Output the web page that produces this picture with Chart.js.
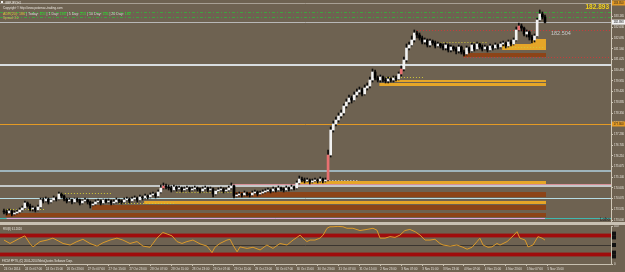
<!DOCTYPE html>
<html><head><meta charset="utf-8">
<script src="https://cdn.jsdelivr.net/npm/chart.js@4"></script>
<style>
html,body{margin:0;padding:0;background:#6e6251;overflow:hidden}
#wrap{position:relative;width:625px;height:272px;background:#6e6251}
canvas{position:absolute;left:0}
#c1{top:0}
#sep{position:absolute;left:0;top:222px;width:625px;height:3px;background:#c9c1b3}
#c2{top:225px}
</style></head><body>
<div id="wrap"><canvas id="c1" width="625" height="222"></canvas><div id="sep"></div><canvas id="c2" width="625" height="47"></canvas></div>
<script>
// ---------- DATA ----------
const opens=[173.45,173.40,173.35,173.45,173.30,173.35,173.40,173.50,173.60,173.85,173.70,173.55,173.60,173.50,173.65,174.00,173.95,174.05,173.90,174.00,174.10,174.05,174.30,174.20,174.05,173.95,174.00,173.90,174.05,174.00,173.85,173.95,174.00,173.90,173.75,173.80,173.90,173.95,173.85,174.00,173.90,173.95,173.85,173.90,174.00,173.95,173.90,174.00,174.05,173.95,174.05,174.10,174.00,174.15,174.10,174.20,174.15,174.25,174.30,174.20,174.40,174.60,174.70,174.65,174.60,174.50,174.65,174.55,174.60,174.50,174.55,174.60,174.50,174.55,174.60,174.55,174.45,174.55,174.60,174.50,174.55,174.30,174.45,174.50,174.55,174.45,174.50,174.60,174.70,174.20,174.25,174.30,174.25,174.35,174.30,174.25,174.35,174.40,174.30,174.35,174.40,174.45,174.50,174.45,174.55,174.50,174.60,174.55,174.50,174.60,174.55,174.65,174.60,174.85,175.05,175.00,174.95,175.00,174.90,174.95,175.00,174.95,175.05,174.95,175.00,176.25,177.50,177.80,178.00,178.20,178.35,178.70,178.90,179.10,179.00,179.25,179.40,179.50,179.30,179.60,179.70,180.00,180.40,180.10,180.00,180.15,180.00,179.95,180.05,180.00,180.10,180.05,180.30,180.55,181.00,181.60,181.75,182.00,182.35,182.25,182.10,181.90,182.00,181.75,181.95,181.85,181.70,181.80,181.70,181.60,181.75,181.50,181.65,181.55,181.45,181.65,181.40,181.30,181.60,181.45,181.75,181.55,181.80,181.65,181.55,181.65,181.50,181.70,181.60,181.75,181.65,181.80,181.85,181.70,181.90,181.80,182.00,182.50,182.70,182.60,182.30,182.40,182.15,182.00,182.20,183.00,183.30,183.15];
const closes=[173.40,173.35,173.45,173.30,173.35,173.40,173.50,173.60,173.85,173.70,173.55,173.60,173.50,173.65,174.00,173.95,174.05,173.90,174.00,174.10,174.05,174.30,174.20,174.05,173.95,174.00,173.90,174.05,174.00,173.85,173.95,174.00,173.90,173.75,173.80,173.90,173.95,173.85,174.00,173.90,173.95,173.85,173.90,174.00,173.95,173.90,174.00,174.05,173.95,174.05,174.10,174.00,174.15,174.10,174.20,174.15,174.25,174.30,174.20,174.40,174.60,174.70,174.65,174.60,174.50,174.65,174.55,174.60,174.50,174.55,174.60,174.50,174.55,174.60,174.55,174.45,174.55,174.60,174.50,174.55,174.30,174.45,174.50,174.55,174.45,174.50,174.60,174.70,174.20,174.25,174.30,174.25,174.35,174.30,174.25,174.35,174.40,174.30,174.35,174.40,174.45,174.50,174.45,174.55,174.50,174.60,174.55,174.50,174.60,174.55,174.65,174.60,174.85,175.05,175.00,174.95,175.00,174.90,174.95,175.00,174.95,175.05,174.95,175.00,176.25,177.50,177.80,178.00,178.20,178.35,178.70,178.90,179.10,179.00,179.25,179.40,179.50,179.30,179.60,179.70,180.00,180.40,180.10,180.00,180.15,180.00,179.95,180.05,180.00,180.10,180.05,180.30,180.55,181.00,181.60,181.75,182.00,182.35,182.25,182.10,181.90,182.00,181.75,181.95,181.85,181.70,181.80,181.70,181.60,181.75,181.50,181.65,181.55,181.45,181.65,181.40,181.30,181.60,181.45,181.75,181.55,181.80,181.65,181.55,181.65,181.50,181.70,181.60,181.75,181.65,181.80,181.85,181.70,181.90,181.80,182.00,182.50,182.70,182.60,182.30,182.40,182.15,182.00,182.20,183.00,183.30,183.15,182.893];
const highs=[173.55,173.50,173.55,173.50,173.45,173.50,173.60,173.70,173.95,173.90,173.80,173.70,173.65,173.75,174.10,174.10,174.15,174.10,174.05,174.20,174.15,174.40,174.35,174.25,174.10,174.10,174.05,174.10,174.10,174.05,174.00,174.10,174.05,173.95,173.90,174.00,174.05,174.00,174.05,174.05,174.05,174.00,174.00,174.10,174.05,174.00,174.10,174.15,174.10,174.15,174.20,174.15,174.25,174.20,174.30,174.25,174.35,174.40,174.35,174.50,174.75,174.85,174.80,174.75,174.70,174.75,174.70,174.70,174.65,174.65,174.70,174.65,174.65,174.70,174.65,174.60,174.65,174.70,174.65,174.65,174.60,174.50,174.60,174.65,174.60,174.60,174.70,174.85,174.75,174.35,174.40,174.35,174.45,174.40,174.35,174.45,174.50,174.45,174.45,174.50,174.55,174.60,174.55,174.65,174.60,174.70,174.65,174.60,174.70,174.65,174.75,174.70,174.95,175.20,175.15,175.10,175.10,175.05,175.05,175.10,175.05,175.15,175.10,175.10,176.50,177.65,177.95,178.15,178.35,178.50,178.80,179.05,179.25,179.20,179.40,179.55,179.65,179.60,179.75,179.85,180.15,180.55,180.50,180.20,180.25,180.20,180.10,180.15,180.10,180.20,180.20,180.40,180.70,181.15,181.80,181.90,182.20,182.50,182.45,182.35,182.20,182.10,182.05,182.05,182.00,181.95,181.90,181.85,181.80,181.85,181.80,181.75,181.70,181.65,181.75,181.70,181.50,181.70,181.65,181.85,181.80,181.90,181.85,181.75,181.75,181.70,181.80,181.75,181.85,181.80,181.90,181.95,181.90,182.00,182.00,182.10,182.65,182.85,182.80,182.65,182.50,182.45,182.25,182.30,183.10,183.50,183.40,183.25];
const lows=[173.30,173.25,173.30,173.20,173.25,173.30,173.35,173.45,173.55,173.65,173.45,173.45,173.40,173.45,173.60,173.85,173.90,173.80,173.85,173.95,173.95,174.00,174.10,173.95,173.85,173.90,173.80,173.85,173.90,173.75,173.80,173.90,173.80,173.60,173.70,173.75,173.85,173.75,173.80,173.85,173.85,173.75,173.80,173.85,173.85,173.80,173.85,173.95,173.85,173.90,174.00,173.90,173.95,174.00,174.05,174.05,174.10,174.20,174.10,174.15,174.35,174.55,174.55,174.50,174.40,174.45,174.45,174.50,174.40,174.45,174.50,174.40,174.45,174.50,174.45,174.35,174.40,174.50,174.40,174.45,174.15,174.25,174.40,174.45,174.35,174.40,174.45,174.55,174.10,174.15,174.20,174.15,174.20,174.20,174.15,174.20,174.30,174.20,174.25,174.30,174.35,174.40,174.35,174.40,174.40,174.45,174.45,174.40,174.45,174.45,174.50,174.50,174.55,174.80,174.90,174.85,174.90,174.80,174.85,174.90,174.85,174.90,174.85,174.90,174.95,176.15,177.40,177.70,177.90,178.10,178.25,178.60,178.80,178.85,178.95,179.15,179.30,179.20,179.25,179.50,179.60,179.90,180.00,179.90,179.90,179.90,179.85,179.85,179.90,179.90,179.95,180.00,180.20,180.45,180.90,181.50,181.70,181.90,182.10,182.00,181.80,181.80,181.65,181.65,181.75,181.60,181.65,181.60,181.50,181.50,181.40,181.40,181.45,181.30,181.35,181.30,181.20,181.25,181.35,181.40,181.45,181.50,181.55,181.45,181.50,181.40,181.45,181.50,181.55,181.55,181.60,181.70,181.60,181.65,181.70,181.75,181.95,182.45,182.45,182.20,182.15,182.00,181.85,181.90,182.15,182.95,183.05,182.85];
const flaggedBars=[61,124,152,197];
const priceTicks=[173.000,173.535,174.070,174.605,175.140,175.675,176.210,176.745,177.280,177.815,178.350,178.885,179.420,179.955,180.490,181.025,181.560,182.095,182.630,183.165];
const timeBars=[0,8,16,24,32,40,48,56,64,72,80,88,96,104,112,120,128,136,144,152,160,168,176,184,192,200,208];
const timeLabels=["24 Oct 2014","24 Oct 07:00","24 Oct 15:00","26 Oct 23:00","27 Oct 07:00","27 Oct 15:00","27 Oct 23:00","28 Oct 07:00","28 Oct 15:00","28 Oct 23:00","29 Oct 07:00","29 Oct 15:00","29 Oct 23:00","30 Oct 07:00","30 Oct 15:00","30 Oct 23:00","31 Oct 07:00","31 Oct 15:00","2 Nov 23:00","3 Nov 07:00","3 Nov 15:00","3 Nov 23:00","4 Nov 07:00","4 Nov 15:00","4 Nov 23:00","5 Nov 07:00","5 Nov 15:00"];
const rsiBars=[0,2.3,6.1,8,9.9,11.1,13.8,16.5,18.7,20.7,22.6,25.3,27.9,30.2,32.9,35.6,37.9,40.6,43.2,45.5,48.2,50.9,53.2,55.9,57,58.5,59.7,60.8,62.4,64.3,66.2,68.1,70,72.3,75,77.7,79.6,80.7,82.6,85.3,86.5,87.6,89.2,90.3,93,95.3,98,100.6,102.9,105.6,108.3,110.6,112.1,113.3,114.4,115.9,117.1,119,120.9,122.1,123.6,124.7,125.9,127.8,129.7,131.2,133.5,136.2,138.9,141.2,142.7,143.9,145.8,147.7,149.6,151.5,153.4,155.3,157.3,159.2,161.1,163,164.9,166.8,168,170.7,173.3,175.6,177.2,179.1,181,182.1,183.3,185.2,186.7,188.6,189.8,192.5,194.8,196.3,197.4,199.4,200.5,202.4,204.3,205.9,207];
const rsiVals=[63,54,68,74,54,45,59,63,68,61,54,50,59,65,54,47,56,63,68,63,54,59,47,44,54,68,76,83,79,74,59,54,59,63,53,47,30,44,54,63,65,50,32,45,41,44,37,50,41,54,50,63,70,76,68,59,63,63,68,76,94,98,98,99,98,94,94,88,91,94,89,68,68,72,70,76,88,91,85,76,63,63,65,54,50,47,50,44,39,44,59,68,50,44,45,54,50,59,74,85,68,63,45,50,72,68,63];
const bidPrice=182.893;
// horizontal levels: price, first bar, last bar (null = chart edge), kind
const levelPrice=[183.85,183.40,183.15,182.893,182.504,181.90,181.15,180.75,180.15,177.80,175.45,175.00,174.80,174.70,174.10,173.125,173.125,173.55,174.35,173.85,174.40,181.65];
const levelFrom=[null,null,null,null,158,167,176,null,145,null,null,113,87,null,null,null,1,0,21,44,66,191];
const levelTo=[null,null,null,null,null,185,null,null,161,null,null,136,null,null,null,null,207,16,41,65,88,207];
const levelKind=["gray","green","green","bid","reddot","olive","reddot","silver","olive","orange","steel","whitedot","pink","silver2","cyan","teal","lilac","olive","olive","olive","olive","olive"];
// zones: first bar, last bar, top price, bottom price, kind
const zoneFrom=[191,202,176,150,144,113,88,54,34,1];
const zoneTo=[207,207,207,207,207,207,207,207,207,207];
const zoneHi=[181.80,182.05,181.35,180.00,179.85,174.95,174.40,173.95,173.75,173.35];
const zoneLo=[181.50,181.80,181.15,179.90,179.70,174.80,174.15,173.80,173.50,173.15];
const zoneKind=["gold","gold","brown","gold","gold","gold","brown","gold","brown","brown"];

// ---------- STYLE ----------
const BG='#6e6251';
const FONT='"Liberation Sans", Arial, sans-serif';
const zoneStyle={gold:'#e6a628',brown:'#8c4418'};
const lineStyle={
 gray:{c:'#a8a094',w:1},green:{c:'#3fa33f',w:1,d:[3,2,1,2]},bid:{c:'#b8b8b8',w:1},
 reddot:{c:'#c83c3c',w:1,d:[1,2]},olive:{c:'#cfc83a',w:1,d:[1,2]},silver:{c:'#d8dde0',w:2},
 orange:{c:'#e49a24',w:1},steel:{c:'#9fb4bb',w:2},whitedot:{c:'#e0e0e0',w:1,d:[1,2]},
 pink:{c:'#d89098',w:1},silver2:{c:'#c4c8c8',w:2},cyan:{c:'#b8dce4',w:1},teal:{c:'#40b8b0',w:1},lilac:{c:'#e0a8e0',w:1}
};
const X_MIN=-1.53, X_MAX=232.26;

const bodyColors=opens.map((o,i)=>flaggedBars.includes(i)?'#e87070':(closes[i]>=o?'#f2f2f2':'#000000'));

function zeroPad(s){s.paddingTop=0;s.paddingBottom=0;s.paddingLeft=0;s.paddingRight=0;}

const mainPlugin={
 id:'mainDeco',
 beforeDatasetsDraw(chart){
  const {ctx,chartArea:a,scales:{x,y}}=chart;
  ctx.save();
  ctx.beginPath();ctx.rect(a.left,a.top,a.right-a.left,a.bottom-a.top);ctx.clip();
  zoneFrom.forEach((f,k)=>{
   const x0=x.getPixelForValue(f)-1, x1=x.getPixelForValue(zoneTo[k])+1;
   const y0=y.getPixelForValue(zoneHi[k]), y1=y.getPixelForValue(zoneLo[k]);
   ctx.fillStyle=zoneStyle[zoneKind[k]];
   ctx.fillRect(x0,y0,x1-x0,y1-y0);
  });
  levelPrice.forEach((p,k)=>{
   const st=lineStyle[levelKind[k]];
   const x0=levelFrom[k]==null?a.left:x.getPixelForValue(levelFrom[k]);
   const x1=levelTo[k]==null?a.right:x.getPixelForValue(levelTo[k]);
   const yy=Math.round(y.getPixelForValue(p))+(st.w%2?0.5:0);
   ctx.strokeStyle=st.c;ctx.lineWidth=st.w;ctx.setLineDash(st.d||[]);
   ctx.beginPath();ctx.moveTo(x0,yy);ctx.lineTo(x1,yy);ctx.stroke();
  });
  ctx.restore();
 },
 afterDraw(chart){
  const {ctx,chartArea:a,scales:{y}}=chart;
  ctx.save();
  ctx.textBaseline='alphabetic';
  // header texts
  ctx.fillStyle='#f0f0f0';ctx.fillRect(1,1,2,2);
  ctx.font='3px '+FONT;ctx.fillStyle='#e8e4dc';
  ctx.fillText('GBPJPY,H1',5,4);
  ctx.fillText('Copyright \u00a9 http://www.potomac-trading.com',3,8.5);
  ctx.font='3.6px '+FONT;
  const segs=[['ADR(20): 186 ','#e0c040'],['| Today: ','#dcdcdc'],['105','#30e030'],[' | 1 Day: ','#dcdcdc'],['183','#30e030'],[' | 5 Day: ','#dcdcdc'],['215','#30e030'],[' | 10 Day: ','#dcdcdc'],['156','#30e030'],[' | 20 Day: ','#dcdcdc'],['182','#30e030']];
  let tx=3;
  segs.forEach(([t,c])=>{ctx.fillStyle=c;ctx.fillText(t,tx,14.5);tx+=ctx.measureText(t).width;});
  ctx.font='3px '+FONT;ctx.fillStyle='#d8c060';
  ctx.fillText('Spread: 3.0',3,18.5);
  // price labels
  ctx.font='bold 6.5px '+FONT;ctx.fillStyle='#f2d21a';ctx.textAlign='right';
  ctx.fillText(bidPrice.toFixed(3),609,9);
  ctx.font='5.5px '+FONT;ctx.fillStyle='#c8c8c8';ctx.textAlign='left';
  ctx.fillText(levelPrice[4].toFixed(3),551,35);
  ctx.font='4.5px '+FONT;ctx.fillStyle='#222222';ctx.textAlign='right';
  ctx.fillText('Lobo',610,221);
  // axis boxes
  const boxes=[[bidPrice,'#f4f4f4','#000'],[levelPrice[9],'#e49a24','#222'],[levelPrice[0],'#e49a24','#222']];
  ctx.font='2.8px '+FONT;ctx.textAlign='left';
  boxes.forEach(([p,bg,fg])=>{
   const yy=y.getPixelForValue(p);
   ctx.fillStyle=bg;ctx.fillRect(a.right+1,yy-2.5,13,5);
   ctx.fillStyle=fg;ctx.fillText(p.toFixed(3),a.right+2.5,yy+1);
  });
  ctx.restore();
 }
};

new Chart(document.getElementById('c1'),{
 type:'bar',
 data:{datasets:[
  {data:opens.map((o,i)=>({x:i,y:[lows[i],highs[i]]})),backgroundColor:'#0c0c0c',barThickness:1,grouped:false,borderWidth:0,order:2},
  {data:opens.map((o,i)=>({x:i,y:[o,closes[i]]})),backgroundColor:bodyColors,barThickness:2,minBarLength:1,grouped:false,borderWidth:0,order:1}
 ]},
 options:{
  responsive:false,animation:false,events:[],
  layout:{padding:0},
  plugins:{legend:{display:false},tooltip:{enabled:false}},
  scales:{
   x:{type:'linear',min:X_MIN,max:X_MAX,offset:false,display:false},
   y:{type:'linear',position:'right',min:172.9,max:184.0,
      afterBuildTicks(s){s.ticks=priceTicks.map(v=>({value:v}));},
      afterFit(s){s.width=14;zeroPad(s);},
      ticks:{autoSkip:false,font:{size:2.8,family:FONT},color:'#e8e4dc',padding:1,callback:v=>Number(v).toFixed(3)},
      grid:{drawOnChartArea:false,drawTicks:true,tickLength:2,color:'#d0c8b8'},
      border:{color:'#d0c8b8',width:1}}
  }
 },
 plugins:[mainPlugin]
});

const rsiPlugin={
 id:'rsiDeco',
 beforeDatasetsDraw(chart){
  const {ctx,chartArea:a,scales:{y}}=chart;
  ctx.save();
  ctx.fillStyle='#a00c0c';
  [[80,70],[30,20]].forEach(([h,l])=>{const y0=y.getPixelForValue(h),y1=y.getPixelForValue(l);ctx.fillRect(a.left,y0,a.right-a.left,y1-y0);});
  ctx.strokeStyle='#3a3530';ctx.lineWidth=1;
  const ym=Math.round(y.getPixelForValue(50))+0.5;
  ctx.beginPath();ctx.moveTo(a.left,ym);ctx.lineTo(a.right,ym);ctx.stroke();
  ctx.restore();
 },
 afterDraw(chart){
  const {ctx,chartArea:a,scales:{y}}=chart;
  ctx.save();
  ctx.font='2.8px '+FONT;ctx.fillStyle='#e8e4dc';
  ctx.fillText('RSI(8) 61.2020',3,4.5);
  ctx.fillText('FXCM PFTS, (C) 2001-2014 MetaQuotes Software Corp.',2,37);
  [80,70,50,30,20].forEach(v=>{const yy=y.getPixelForValue(v);ctx.fillStyle='#111';ctx.fillRect(a.right+1,yy-2,4,4);});
  ctx.restore();
 }
};

new Chart(document.getElementById('c2'),{
 type:'line',
 data:{datasets:[{data:rsiBars.map((b,k)=>({x:b,y:rsiVals[k]})),borderColor:'#dc9a2a',borderWidth:1,pointRadius:0,tension:0}]},
 options:{
  responsive:false,animation:false,events:[],
  layout:{padding:{top:1,left:0,right:0,bottom:0}},
  plugins:{legend:{display:false},tooltip:{enabled:false}},
  scales:{
   x:{type:'linear',position:'bottom',min:X_MIN,max:X_MAX,offset:false,
      afterBuildTicks(s){s.ticks=timeBars.map(v=>({value:v}));},
      afterFit(s){s.height=8;zeroPad(s);},
      ticks:{autoSkip:false,maxRotation:0,minRotation:0,align:'start',padding:1,font:{size:3,family:FONT},color:'#e0dcd4',callback:(v,i)=>timeLabels[i]},
      grid:{drawOnChartArea:false,drawTicks:true,tickLength:2,color:'#c8c0b0'},
      border:{color:'#c8c0b0',width:1}},
   y:{type:'linear',position:'right',min:0,max:100,
      afterBuildTicks(s){s.ticks=[0,100].map(v=>({value:v}));},
      afterFit(s){s.width=14;zeroPad(s);},
      ticks:{autoSkip:false,font:{size:2.8,family:FONT},color:'#e8e4dc',padding:1},
      grid:{drawOnChartArea:false,drawTicks:true,tickLength:2,color:'#c8c0b0'},
      border:{color:'#c8c0b0',width:1}}
  }
 },
 plugins:[rsiPlugin]
});
</script>
</body></html>
